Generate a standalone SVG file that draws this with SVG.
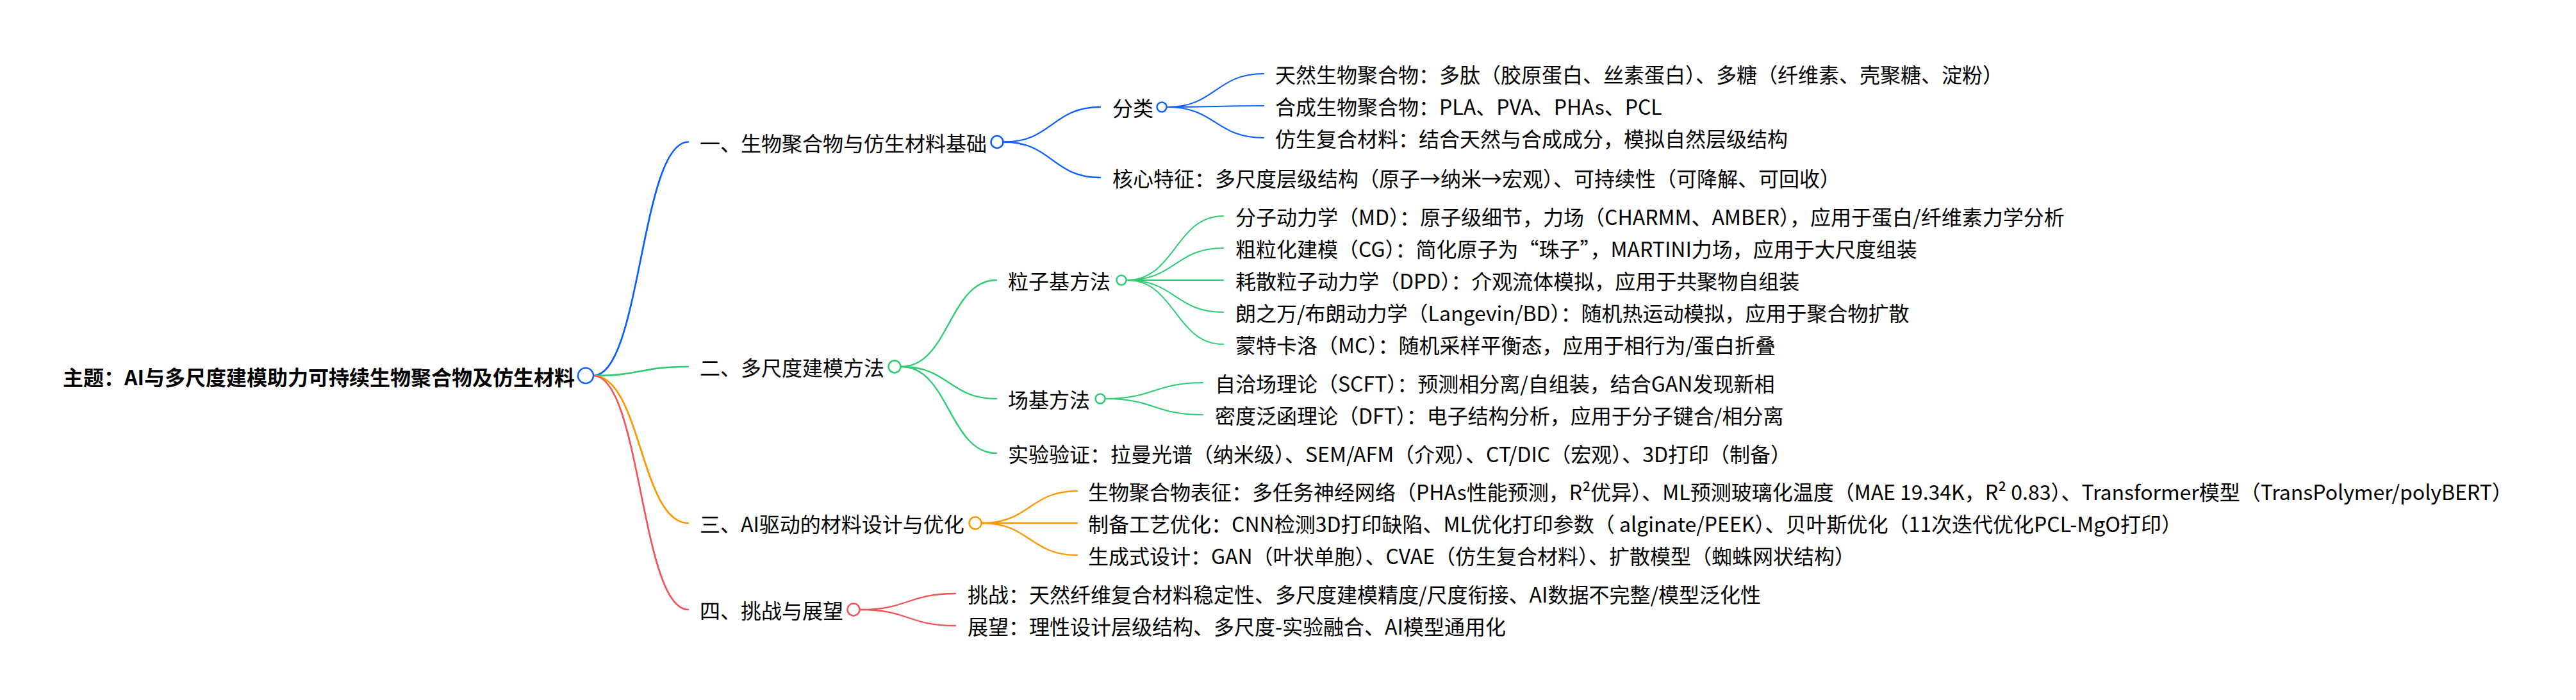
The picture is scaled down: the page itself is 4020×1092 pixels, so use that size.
<svg xmlns="http://www.w3.org/2000/svg" width="4020" height="1092" viewBox="0 0 4020 1092">
<style>
text{font-family:"Noto Sans CJK SC","Noto Sans",sans-serif;font-size:32px;fill:#000;dominant-baseline:central}
.root{font-weight:bold}
.l{fill:none;stroke-linecap:round}
.d1{stroke-width:2.7}
.d2{stroke-width:2.3}
.d3{stroke-width:2}
.b{stroke:#0b5fff}
.g{stroke:#2ecc71}
.o{stroke:#ff9800}
.r{stroke:#f25555}
circle{fill:#fff;stroke-width:2.5}
</style>
<rect width="4020" height="1092" fill="#fff"/>
<g id="connectors">
<path class="l d1 b" d="M926 586 C1000 586 1000 221.5 1074 221.5"/>
<path class="l d1 g" d="M926 586 C1000 586 1000 572 1074 572"/>
<path class="l d1 o" d="M926 586 C1000 586 1000 816 1074 816"/>
<path class="l d1 r" d="M926 586 C1000 586 1000 951 1074 951"/>
<path class="l d2 b" d="M1566.5 221.5 C1642 221.5 1642 167 1717 167"/>
<path class="l d2 b" d="M1566.5 221.5 C1642 221.5 1642 277 1717 277"/>
<path class="l d3 b" d="M1821.5 167 C1897 167 1897 115 1972 115"/>
<path class="l d3 b" d="M1821.5 167 C1897 167 1897 165 1972 165"/>
<path class="l d3 b" d="M1821.5 167 C1897 167 1897 215 1972 215"/>
<path class="l d2 g" d="M1406.5 572 C1481 572 1481 437 1555 437"/>
<path class="l d2 g" d="M1406.5 572 C1481 572 1481 622 1555 622"/>
<path class="l d2 g" d="M1406.5 572 C1481 572 1481 707 1555 707"/>
<path class="l d3 g" d="M1758.5 437 C1834 437 1834 337 1909 337"/>
<path class="l d3 g" d="M1758.5 437 C1834 437 1834 387 1909 387"/>
<path class="l d3 g" d="M1758.5 437 L1909 437"/>
<path class="l d3 g" d="M1758.5 437 C1834 437 1834 487 1909 487"/>
<path class="l d3 g" d="M1758.5 437 C1834 437 1834 537 1909 537"/>
<path class="l d3 g" d="M1725.5 622 C1801 622 1801 597 1877 597"/>
<path class="l d3 g" d="M1725.5 622 C1801 622 1801 647 1877 647"/>
<path class="l d2 o" d="M1532.5 816 C1607 816 1607 766 1681 766"/>
<path class="l d2 o" d="M1532.5 816 L1681 816"/>
<path class="l d2 o" d="M1532.5 816 C1607 816 1607 866 1681 866"/>
<path class="l d2 r" d="M1342.5 951 C1417 951 1417 926 1491 926"/>
<path class="l d2 r" d="M1342.5 951 C1417 951 1417 976 1491 976"/>
</g>
<g id="root">
<text class="root" x="98" y="587">主题：AI与多尺度建模助力可持续生物聚合物及仿生材料</text>
<circle cx="914" cy="586" r="12" stroke="#0b5fff"/>
</g>
<g id="n1">
<text x="1092" y="222">一、生物聚合物与仿生材料基础</text>
<circle cx="1556" cy="221.5" r="9.5" stroke="#0b5fff"/>
</g>
<g id="n1-1">
<text x="1736" y="167">分类</text>
<circle cx="1813" cy="167" r="7.5" stroke="#0b5fff"/>
</g>
<g id="n1-1-1"><text x="1990" y="115">天然生物聚合物：多肽（胶原蛋白、丝素蛋白）、多糖（纤维素、壳聚糖、淀粉）</text></g>
<g id="n1-1-2"><text x="1990" y="165">合成生物聚合物：PLA、PVA、PHAs、PCL</text></g>
<g id="n1-1-3"><text x="1990" y="215">仿生复合材料：结合天然与合成成分，模拟自然层级结构</text></g>
<g id="n1-2"><text x="1736" y="277">核心特征：多尺度层级结构（原子→纳米→宏观）、可持续性（可降解、可回收）</text></g>
<g id="n2">
<text x="1092" y="572">二、多尺度建模方法</text>
<circle cx="1396" cy="572" r="9.5" stroke="#2ecc71"/>
</g>
<g id="n2-1">
<text x="1573" y="437">粒子基方法</text>
<circle cx="1750" cy="437" r="7.5" stroke="#2ecc71"/>
</g>
<g id="n2-1-1"><text x="1928" y="337">分子动力学（MD）：原子级细节，力场（CHARMM、AMBER），应用于蛋白/纤维素力学分析</text></g>
<g id="n2-1-2"><text x="1928" y="387">粗粒化建模（CG）：简化原子为“珠子”，MARTINI力场，应用于大尺度组装</text></g>
<g id="n2-1-3"><text x="1928" y="437">耗散粒子动力学（DPD）：介观流体模拟，应用于共聚物自组装</text></g>
<g id="n2-1-4"><text x="1928" y="487">朗之万/布朗动力学（Langevin/BD）：随机热运动模拟，应用于聚合物扩散</text></g>
<g id="n2-1-5"><text x="1928" y="537">蒙特卡洛（MC）：随机采样平衡态，应用于相行为/蛋白折叠</text></g>
<g id="n2-2">
<text x="1573" y="622">场基方法</text>
<circle cx="1717" cy="622" r="7.5" stroke="#2ecc71"/>
</g>
<g id="n2-2-1"><text x="1896" y="597">自洽场理论（SCFT）：预测相分离/自组装，结合GAN发现新相</text></g>
<g id="n2-2-2"><text x="1896" y="647">密度泛函理论（DFT）：电子结构分析，应用于分子键合/相分离</text></g>
<g id="n2-3"><text x="1573" y="707">实验验证：拉曼光谱（纳米级）、SEM/AFM（介观）、CT/DIC（宏观）、3D打印（制备）</text></g>
<g id="n3">
<text x="1092" y="816">三、AI驱动的材料设计与优化</text>
<circle cx="1522" cy="816" r="9.5" stroke="#ff9800"/>
</g>
<g id="n3-1"><text x="1698" y="766">生物聚合物表征：多任务神经网络（PHAs性能预测，R²优异）、ML预测玻璃化温度（MAE 19.34K，R² 0.83）、Transformer模型（TransPolymer/polyBERT）</text></g>
<g id="n3-2"><text x="1698" y="816">制备工艺优化：CNN检测3D打印缺陷、ML优化打印参数（ alginate/PEEK）、贝叶斯优化（11次迭代优化PCL-MgO打印）</text></g>
<g id="n3-3"><text x="1698" y="866">生成式设计：GAN（叶状单胞）、CVAE（仿生复合材料）、扩散模型（蜘蛛网状结构）</text></g>
<g id="n4">
<text x="1092" y="951">四、挑战与展望</text>
<circle cx="1332" cy="951" r="9.5" stroke="#f25555"/>
</g>
<g id="n4-1"><text x="1510" y="926">挑战：天然纤维复合材料稳定性、多尺度建模精度/尺度衔接、AI数据不完整/模型泛化性</text></g>
<g id="n4-2"><text x="1510" y="976">展望：理性设计层级结构、多尺度-实验融合、AI模型通用化</text></g>
</svg>
